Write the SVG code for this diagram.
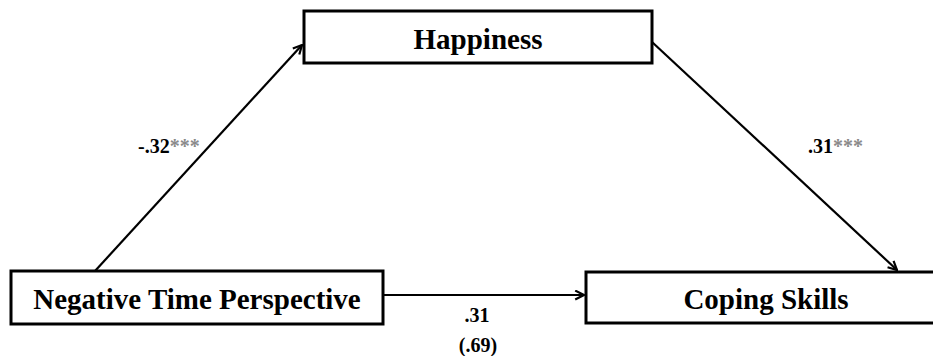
<svg xmlns="http://www.w3.org/2000/svg" width="933" height="356" viewBox="0 0 933 356">
<style>
text{font-family:'Liberation Serif','Times New Roman',serif;font-weight:bold}
.box{fill:#fff;stroke:#000;stroke-width:3}
.nt{font-size:29px;fill:#000;text-anchor:middle}
.lb{font-size:20px;fill:#000}
.st{fill:#8a8a8a}
.edge{stroke:#000;stroke-width:2.2;fill:none;marker-end:url(#arr)}
</style>
<defs>
<marker id="arr" viewBox="0 0 10 10" refX="9" refY="5" markerWidth="5" markerHeight="5" orient="auto" markerUnits="strokeWidth">
<path d="M1,1 L9,5 L1,9" fill="none" stroke="#000" stroke-width="2"/>
</marker>
</defs>
<g id="connectors">
<line class="edge" x1="95" y1="271" x2="302" y2="45"/>
<line class="edge" x1="652" y1="42" x2="897" y2="270"/>
<line class="edge" x1="383" y1="295" x2="584" y2="295"/>
<text class="lb" x="138" y="153" font-family="Liberation Serif, serif">-.32<tspan class="st">***</tspan></text>
<text class="lb" x="808" y="153" font-family="Liberation Serif, serif">.31<tspan class="st">***</tspan></text>
<text class="lb" x="477" y="322" text-anchor="middle" font-family="Liberation Serif, serif">.31</text>
<text class="lb" x="478" y="352" text-anchor="middle" font-family="Liberation Serif, serif">(.69)</text>
</g>
<g id="happiness">
<rect class="box" x="304" y="11" width="348" height="52"/>
<text class="nt" x="478" y="49" font-family="Liberation Serif, serif">Happiness</text>
</g>
<g id="ntp">
<rect class="box" x="11" y="271" width="372" height="53"/>
<text class="nt" x="197" y="309" font-family="Liberation Serif, serif">Negative Time Perspective</text>
</g>
<g id="coping">
<rect class="box" x="586" y="272" width="360" height="51"/>
<text class="nt" x="766" y="309" font-family="Liberation Serif, serif">Coping Skills</text>
</g>
</svg>
